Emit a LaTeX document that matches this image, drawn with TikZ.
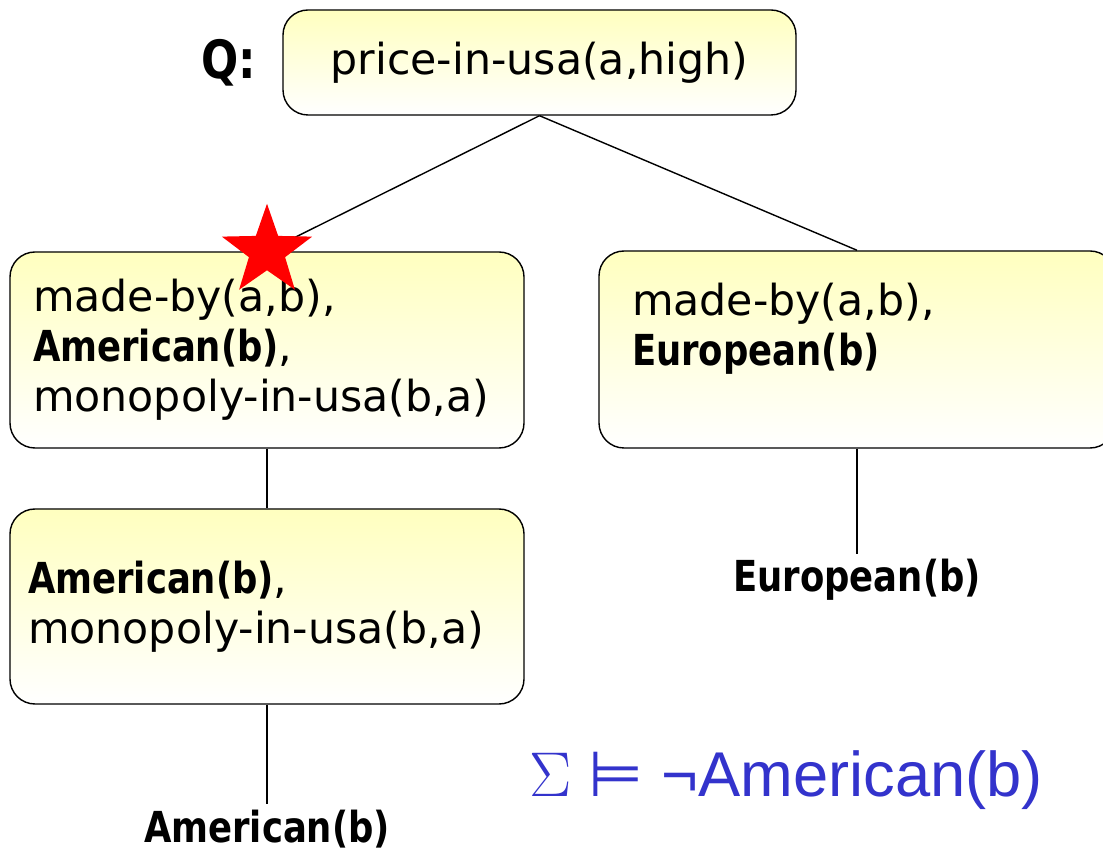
\RequirePackage{fix-cm}
\documentclass[tikz,border=0pt]{standalone}
\usepackage{fontspec}
\setmainfont{DejaVu Sans}[BoldFeatures={FakeStretch=0.83}]
\newfontfamily\arialfont{Liberation Sans}
\definecolor{sigmablue}{RGB}{51, 51, 204}
\usetikzlibrary{positioning, shapes.geometric}

\begin{document}
\begin{tikzpicture}[
    goal/.style={draw, rounded corners=0.5cm, top color=yellow!25, bottom color=white,
                 line width=0.8pt, align=left, inner ysep=0pt,
                 font=\fontsize{24.3}{28.45}\selectfont},
    leaf/.style={font=\fontsize{24.3}{28.45}\selectfont\bfseries, inner sep=3pt},
    link/.style={line width=0.8pt}
]
    \useasboundingbox (0,0) rectangle (22.06,17.06);

    \node[goal, align=center, minimum width=10.26cm, minimum height=2.1cm] (query) at (10.79,15.81) {price-in-usa(a,high)};
    \node[font=\fontsize{30}{32}\selectfont\bfseries, left=0.4cm of query] (qlabel) {Q:};

    \node[goal, inner xsep=0.46cm, text width=9.36cm, minimum height=3.92cm] (amer) at (5.34,10.06)
        {made-by(a,b),\\ \textbf{American(b)},\\ monopoly-in-usa(b,a)};
    \node[goal, inner xsep=0.66cm, text width=9.0cm, minimum height=3.94cm] (euro) at (17.14,10.07)
        {made-by(a,b),\\ \textbf{European(b)}\\ \mbox{}};
    \node[goal, inner xsep=0.36cm, text width=9.56cm, minimum height=3.9cm] (mono) at (5.34,4.93)
        {\textbf{American(b)},\\ monopoly-in-usa(b,a)};

    \node[leaf] (eurofail) at (17.14,5.46) {European(b)};
    \node[leaf] (amerfail) at (5.34,0.48) {American(b)};

    \draw[link] (query.south) -- (amer.north);
    \draw[link] (query.south) -- (euro.north);
    \draw[link] (amer.south) -- (mono.north);
    \draw[link] (mono.south) -- (amerfail.north);
    \draw[link] (euro.south) -- (eurofail.north);

    \node[star, star points=5, star point ratio=2.5, fill=red, minimum size=1.9cm, inner sep=0pt] (mark) at (amer.north) {};

    \node[text=sigmablue, font=\arialfont\fontsize{36}{40}\selectfont] (entail) at (15.72,1.46)
        {$\Sigma$ {\normalfont ⊨} ¬American(b)};
\end{tikzpicture}
\end{document}
